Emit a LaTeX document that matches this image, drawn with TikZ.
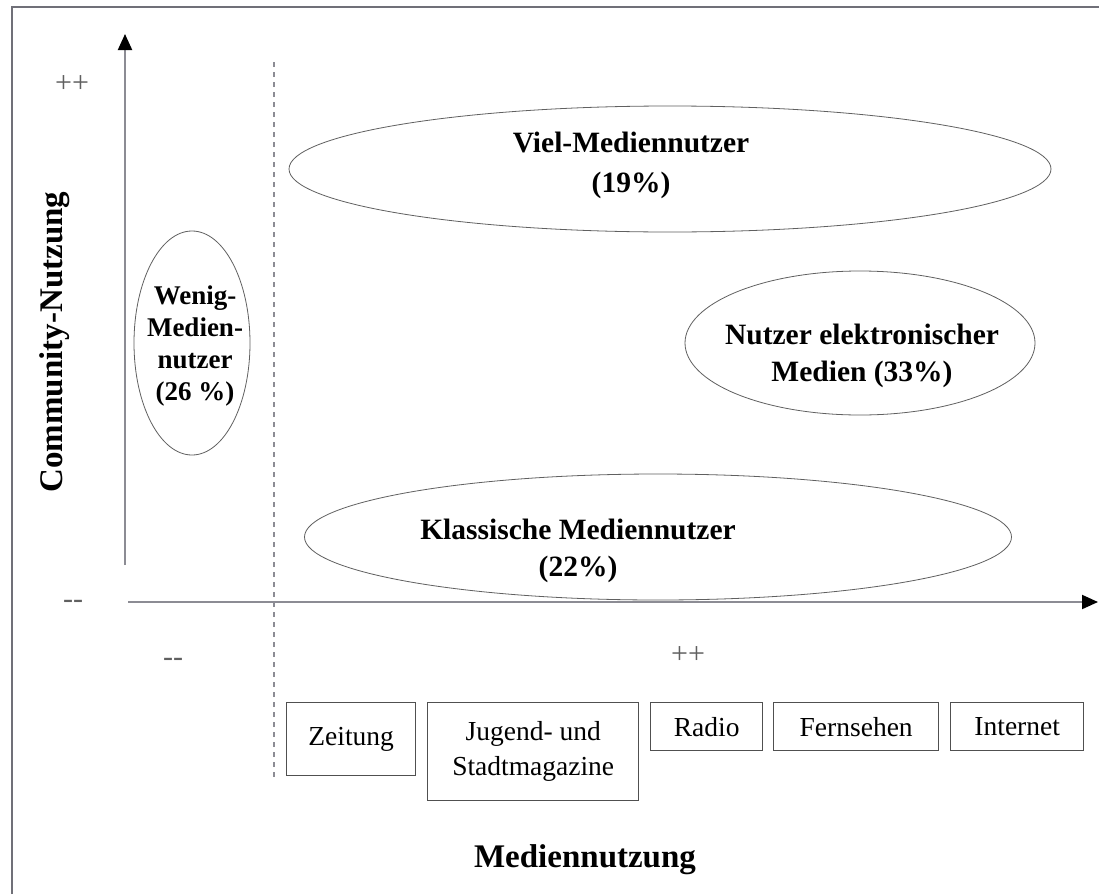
\documentclass[tikz,border=0pt]{standalone}
\usepackage{fontspec}
\setmainfont{Liberation Serif}
\usetikzlibrary{shapes.geometric,arrows.meta}
\definecolor{axisgray}{HTML}{8C8C94}
\definecolor{framegray}{HTML}{707078}
\definecolor{linegray}{HTML}{505050}
\definecolor{ellgray}{HTML}{606060}
\definecolor{markgray}{HTML}{606060}
\begin{document}
\begin{tikzpicture}[x=1pt,y=-1pt,
  grp/.style={draw=ellgray, line width=0.8pt, ellipse, inner sep=0pt},
  grptext/.style={font=\fontsize{29.5}{32}\selectfont\bfseries, align=center, inner sep=0pt},
  mbox/.style={draw=linegray, line width=1.4pt, rectangle, inner sep=0pt, anchor=north west, align=center, font=\fontsize{27.5}{35}\selectfont},
  pmark/.style={text=markgray, font=\fontsize{30}{30}\selectfont, inner sep=0pt},
  axis/.style={draw=axisgray, line width=2pt, -{Triangle[length=16pt,width=14pt,color=black]}},
  axlabel/.style={font=\fontsize{33}{33}\selectfont\bfseries, inner sep=0pt}]
\useasboundingbox (0,0) rectangle (1099,894);
\fill[white] (0,0) rectangle (1099,894);
% frame
\coordinate (fbl) at (12,894);
\coordinate (ftl) at (12,7);
\coordinate (ftr) at (1099,7);
\draw[framegray, line width=1.8pt] (fbl) -- (ftl) -- (ftr);
% axes
\coordinate (yb) at (125,565);
\coordinate (yt) at (125,34);
\coordinate (xl) at (128,602);
\coordinate (xr) at (1098,602);
\draw[axis] (yb) -- (yt);
\draw[axis] (xl) -- (xr);
% dashed separator
\coordinate (dt) at (274,62);
\coordinate (db) at (274,778);
\draw[axisgray, line width=1.5pt, dash pattern=on 5pt off 5pt] (dt) -- (db);
% marks
\node[pmark] (mpp1) at (72,84) {++};
\node[pmark] (mmm1) at (73,604) {-{}-};
\node[pmark] (mmm2) at (173,662) {-{}-};
\node[pmark] (mpp2) at (688,655) {++};
% ellipses
\node[grp, minimum width=116pt, minimum height=224pt] (wenig) at (192,343) {};
\node[grptext, font=\fontsize{27}{32}\selectfont\bfseries] (weniglbl) at (195,346) {Wenig-\\Medien-\\nutzer\\(26~\%)};
\node[grp, minimum width=762pt, minimum height=126pt] (viel) at (670,169) {};
\node[grptext, font=\fontsize{29.5}{40}\selectfont\bfseries] (viellbl) at (631,165) {Viel-Mediennutzer\\(19\%)};
\node[grp, minimum width=350pt, minimum height=144pt] (elek) at (860,343) {};
\node[grptext, font=\fontsize{29.5}{37}\selectfont\bfseries] (eleklbl) at (862,356) {Nutzer elektronischer\\Medien (33\%)};
\node[grp, minimum width=707pt, minimum height=126pt] (klass) at (658,537) {};
\node[grptext, font=\fontsize{29.5}{37}\selectfont\bfseries] (klasslbl) at (578,551) {Klassische Mediennutzer\\(22\%)};
% media boxes
\node[mbox, minimum width=129pt, minimum height=73pt] (zeitung) at (286,702) {Zeitung};
\node[mbox, minimum width=211pt, minimum height=98pt] (jugend) at (427,702) {Jugend- und\\Stadtmagazine};
\node[mbox, minimum width=112pt, minimum height=48pt] (radio) at (650,702) {Radio};
\node[mbox, minimum width=165pt, minimum height=48pt] (fern) at (773,702) {Fernsehen};
\node[mbox, minimum width=133pt, minimum height=48pt] (inet) at (950,702) {Internet};
% axis labels
\node[axlabel] (xlab) at (585,860) {Mediennutzung};
\node[axlabel, rotate=90] (ylab) at (55,342) {Community-Nutzung};
\end{tikzpicture}
\end{document}
